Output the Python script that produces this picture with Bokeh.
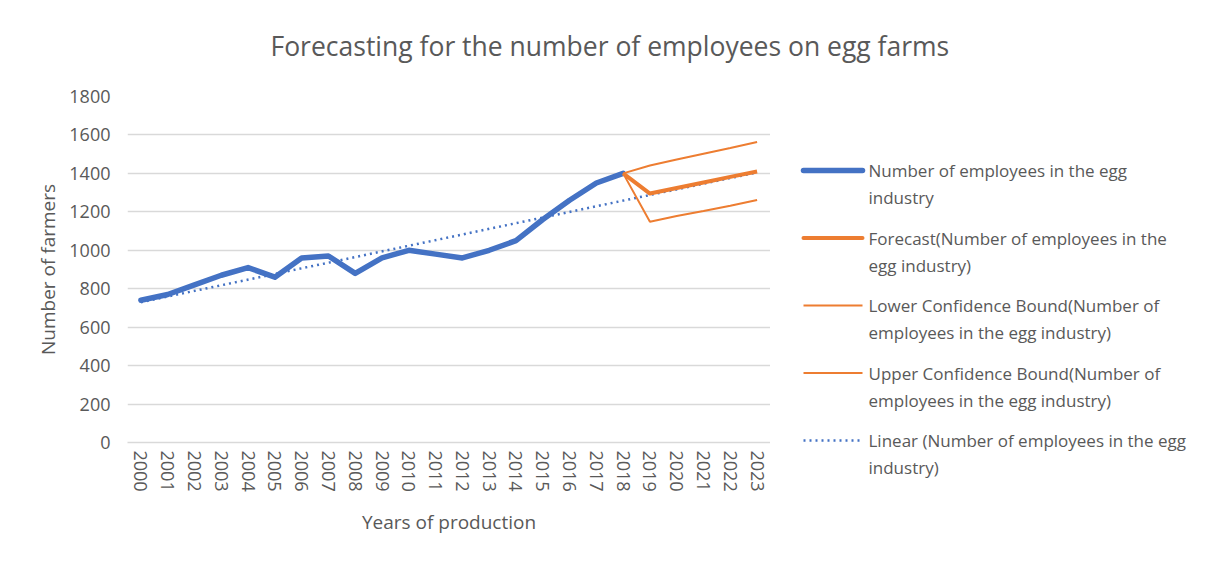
from bokeh.plotting import figure
from bokeh.models import Range1d, FactorRange
from bokeh.layouts import column, row
from bokeh.core.properties import value
from bokeh.embed import file_html
from bokeh.resources import INLINE

title_text = "Forecasting for the number of employees on egg farms"
years = [str(y) for y in range(2000, 2024)]
hist_years = years[:19]
employees = [740, 770, 820, 870, 910, 860, 960, 970, 880, 960, 1000, 980, 960,
             1000, 1050, 1160, 1260, 1350, 1400]
fc_years = years[18:]
forecast = [1400, 1295, 1324, 1353, 1382, 1410]
lower = [1400, 1148, 1178, 1204, 1232, 1262]
upper = [1400, 1441, 1472, 1502, 1532, 1563]
trend_years = ["2000", "2023"]
trend_vals = [730, 1405]
y_ticks = [0, 200, 400, 600, 800, 1000, 1200, 1400, 1600, 1800]
legend_labels = [
    "Number of employees in the egg\nindustry",
    "Forecast(Number of employees in the\negg industry)",
    "Lower Confidence Bound(Number of\nemployees in the egg industry)",
    "Upper Confidence Bound(Number of\nemployees in the egg industry)",
    "Linear (Number of employees in the egg\nindustry)",
]

FONT = "Open Sans"
TXT = "#595959"
BLUE = "#4472C4"
ORANGE = "#ED7D31"
W, H = 1193, 548
TITLE_H = 78
SPLIT_X = 770

# ---- title strip ----
p0 = figure(width=W, height=TITLE_H, x_range=Range1d(0, W), y_range=Range1d(TITLE_H, 0),
            output_backend="svg", toolbar_location=None, x_axis_location=None,
            y_axis_location=None, min_border=0)
p0.frame_align = False
p0.grid.visible = False
p0.outline_line_color = None
p0.text(x=[270], y=[45], text=[title_text], text_font=value(FONT), text_font_size=value("26.5px"),
        text_color=TXT, text_baseline="middle", text_align="left")

# ---- main chart ----
p = figure(width=SPLIT_X, height=H - TITLE_H, x_range=FactorRange(*years), y_range=Range1d(0, 1800),
           output_backend="svg", toolbar_location=None,
           min_border_left=127, min_border_right=0, min_border_top=18, min_border_bottom=106)
p.frame_align = False
p.outline_line_color = None
p.xgrid.grid_line_color = None
p.ygrid.grid_line_color = "#d9d9d9"
p.ygrid.grid_line_width = 1.3
p.yaxis.ticker = y_ticks

for ax in (p.xaxis[0], p.yaxis[0]):
    ax.axis_line_color = None
    ax.major_tick_line_color = None
    ax.minor_tick_line_color = None
    ax.major_tick_out = 0
    ax.major_tick_in = 0
    ax.minor_tick_out = 0
    ax.major_label_text_font = FONT
    ax.major_label_text_font_size = "18px"
    ax.major_label_text_color = TXT
    ax.axis_label_text_font = FONT
    ax.axis_label_text_font_size = "19px"
    ax.axis_label_text_font_style = "normal"
    ax.axis_label_text_color = TXT

p.xaxis.axis_label = "Years of production"
p.xaxis.major_label_orientation = "vertical"
p.xaxis.major_label_standoff = 8
p.xaxis.axis_label_standoff = 14
p.xaxis.axis_line_color = "#d9d9d9"
p.xaxis.axis_line_width = 1.3

p.yaxis.axis_label = "Number of farmers"
p.yaxis.major_label_standoff = 17
p.yaxis.axis_label_standoff = 5

p.line(trend_years, trend_vals, line_color=BLUE, line_width=2.5, line_dash="2 4")
p.line(hist_years, employees, line_color=BLUE, line_width=5.5, line_cap="round", line_join="round")
p.line(fc_years, lower, line_color=ORANGE, line_width=2)
p.line(fc_years, upper, line_color=ORANGE, line_width=2)
p.line(fc_years, forecast, line_color=ORANGE, line_width=4, line_join="round")

# ---- legend panel (page pixel coordinates) ----
p2 = figure(width=W - SPLIT_X, height=H - TITLE_H, x_range=Range1d(SPLIT_X, W),
            y_range=Range1d(H, TITLE_H), output_backend="svg", toolbar_location=None,
            x_axis_location=None, y_axis_location=None, min_border=0)
p2.frame_align = False
p2.grid.visible = False
p2.outline_line_color = None

first_y, pitch, line_gap = 170, 67.5, 27
sw_x0, sw_x1, txt_x = 803, 862, 868
styles = [
    dict(line_color=BLUE, line_width=5.5, line_cap="round"),
    dict(line_color=ORANGE, line_width=4, line_cap="round"),
    dict(line_color=ORANGE, line_width=2),
    dict(line_color=ORANGE, line_width=2),
    dict(line_color=BLUE, line_width=2.5, line_dash="2 4"),
]
tx, ty, tt = [], [], []
for i, lab in enumerate(legend_labels):
    yy = first_y + pitch * i
    p2.line([sw_x0, sw_x1 if i != 4 else sw_x1 - 3], [yy, yy], **styles[i])
    for j, part in enumerate(lab.split("\n")):
        tx.append(txt_x)
        ty.append(yy + j * line_gap)
        tt.append(part)
p2.text(x=tx, y=ty, text=tt, text_font=value(FONT), text_font_size=value("17px"),
        text_color=TXT, text_baseline="middle", text_align="left")

layout = column(p0, row(p, p2))
open("out.html", "w").write(file_html(layout, INLINE))
